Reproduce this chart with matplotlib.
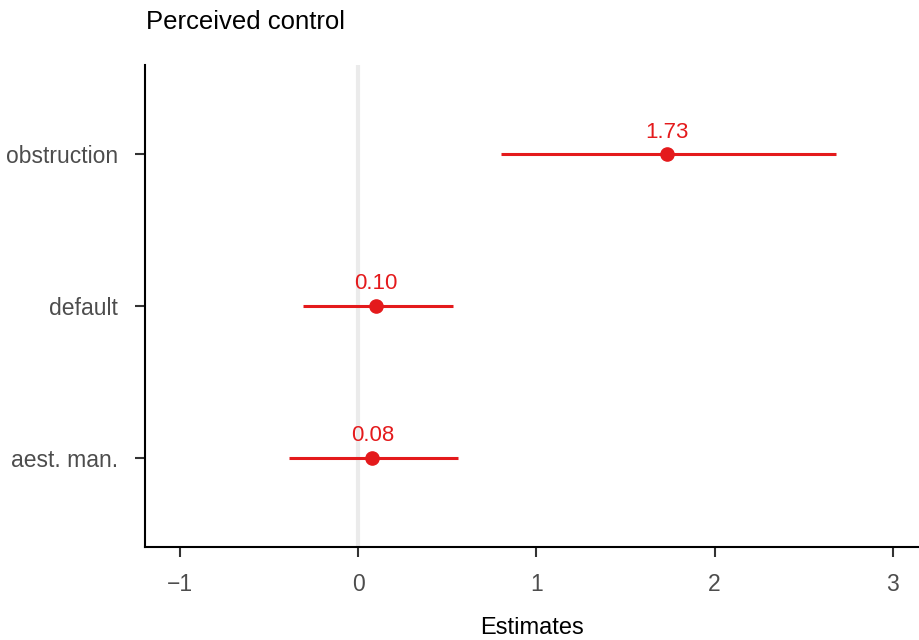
import numpy as np
import matplotlib
matplotlib.use('Agg')
import matplotlib.pyplot as plt

plt.rcParams['font.family'] = ['Liberation Sans', 'DejaVu Sans']

terms = ['aest. man.', 'default', 'obstruction']
estimates = [0.08, 0.10, 1.73]
ci_low = [-0.39, -0.31, 0.80]
ci_high = [0.56, 0.53, 2.68]
labels = ['0.08', '0.10', '1.73']

red = '#e41a1c'

fig = plt.figure(figsize=(9.2, 6.4), dpi=100)
ax = fig.add_axes([145/920, 1 - 547/640, 1 - 145/920, (547 - 65)/640])

ypos = np.arange(1, len(terms) + 1)
ax.axvline(0, color='#ebebeb', lw=3, zorder=0)
ax.hlines(ypos, ci_low, ci_high, color=red, lw=2.2, zorder=2)
ax.plot(estimates, ypos, 'o', color=red, ms=9.5, zorder=3)
for x, y, s in zip(estimates, ypos, labels):
    ax.annotate(s, (x, y), xytext=(0, 16), textcoords='offset points',
                ha='center', va='center', color=red, fontsize=16)

ax.set_xlim(-1.196, 3.152)
ax.set_ylim(0.41, 3.59)
ax.set_xticks([-1, 0, 1, 2, 3])
ax.set_xticklabels(['\u22121', '0', '1', '2', '3'])
ax.set_yticks(ypos)
ax.set_yticklabels(terms)

for side in ['top', 'right']:
    ax.spines[side].set_visible(False)
for side in ['left', 'bottom']:
    ax.spines[side].set_linewidth(1.5)
ax.tick_params(axis='both', length=7.5, width=1.5, colors='#333333',
               labelcolor='#4d4d4d', labelsize=16.5)
ax.tick_params(axis='x', pad=11)
ax.tick_params(axis='y', pad=12)

ax.set_xlabel('Estimates', fontsize=17, labelpad=15)
fig.text(146/920, 1 - 22/640, 'Perceived control', fontsize=18.5,
         ha='left', va='center')

fig.savefig('out.png', dpi=100)
